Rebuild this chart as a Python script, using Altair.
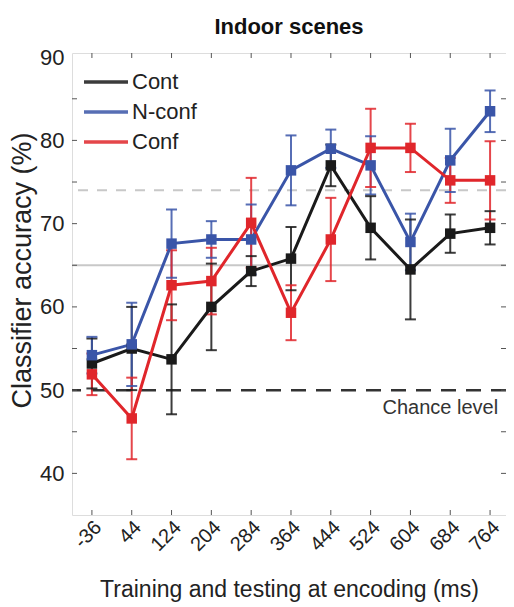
import altair as alt
import pandas as pd

# ---- data ----
times = [-36, 44, 124, 204, 284, 364, 444, 524, 604, 684, 764]
series_names = ["Cont", "N-conf", "Conf"]
cont_mean = [53.2, 55.0, 53.7, 60.0, 64.3, 65.8, 77.0, 69.5, 64.5, 68.8, 69.5]
cont_err = [3.0, 5.0, 6.6, 5.2, 1.8, 3.8, 2.5, 3.8, 6.0, 2.3, 2.0]
nconf_mean = [54.2, 55.5, 67.6, 68.1, 68.1, 76.4, 79.0, 77.0, 67.8, 77.6, 83.5]
nconf_err = [2.2, 5.0, 4.1, 2.2, 4.2, 4.2, 2.3, 3.5, 3.4, 3.8, 2.5]
conf_mean = [51.9, 46.6, 62.6, 63.1, 70.1, 59.3, 68.1, 79.1, 79.1, 75.2, 75.2]
conf_err = [2.5, 4.9, 4.2, 4.0, 5.4, 3.3, 5.0, 4.7, 2.9, 2.7, 4.7]
series_colors = ["#1a1a1a", "#3a55a8", "#e0262b"]

y_ticks = [40, 50, 60, 70, 80, 90]
y_minor = [40, 45, 50, 55, 60, 65, 70, 75, 80, 85]
chance_level = 50
gray_solid_level = 65
gray_dashed_level = 74
chance_label = ["Chance level"]
chance_label_x = [664]
chance_label_y = [47.9]

title_text = ["Indoor scenes"]
x_title = "Training and testing at encoding (ms)"
y_title = "Classifier accuracy (%)"

W, H = 434, 462
FONT = "Liberation Sans, Arial, Helvetica, sans-serif"

rows = []
for name, m, e in [("Cont", cont_mean, cont_err), ("N-conf", nconf_mean, nconf_err), ("Conf", conf_mean, conf_err)]:
    for t, v, er in zip(times, m, e):
        rows.append({"series": name, "t": t, "acc": v, "lo": v - er, "hi": v + er})
df = pd.DataFrame(rows)

xs = alt.Scale(domain=[-76, 796], nice=False, zero=False)
ys = alt.Scale(domain=[35, 90.5], nice=False, zero=False)
cs = alt.Scale(domain=series_names, range=series_colors)

base = alt.Chart(df)

x_enc = alt.X("t:Q", scale=xs, axis=alt.Axis(
    values=times, title=x_title, labelExpr="'' + datum.value",
    labelAngle=315, labelAlign="right", labelBaseline="middle",
    labelFontSize=20, labelPadding=9, labelOffset=6, labelColor="#222",
    titleFontSize=23, titleFont=FONT, labelFont=FONT, titleColor="#222",
    titleFontWeight="normal", titleBaseline="alphabetic", titleY=81,
    ticks=False, domain=False, grid=False))
y_enc = alt.Y("acc:Q", scale=ys, axis=alt.Axis(
    values=y_ticks, title=y_title, labelFontSize=22, labelPadding=8,
    labelColor="#222", labelFont=FONT, titleFont=FONT, titleFontSize=27,
    titleColor="#222", titleFontWeight="normal", titleAngle=270,
    titleBaseline="middle", titleAlign="center", titleX=-50, titleY=217,
    ticks=False, domain=False, grid=False))

color_enc = alt.Color("series:N", scale=cs, legend=alt.Legend(
    title=None, orient="none", legendX=21, legendY=16, symbolType="M-2,0H2",
    symbolSize=484, symbolStrokeWidth=3.5, labelFontSize=22, labelFont=FONT,
    labelColor="#222", labelOffset=13, rowPadding=6, padding=0))

ref_solid = alt.Chart(pd.DataFrame({"lvl": [gray_solid_level]})).mark_rule(
    color="#c8c8c8", strokeWidth=2).encode(y=alt.Y("lvl:Q", scale=ys))
ref_dash = alt.Chart(pd.DataFrame({"lvl": [gray_dashed_level]})).mark_rule(
    color="#c8c8c8", strokeWidth=2, strokeDash=[10, 9]).encode(y=alt.Y("lvl:Q", scale=ys))
chance = alt.Chart(pd.DataFrame({"lvl": [chance_level]})).mark_rule(
    color="#333333", strokeWidth=2.5, strokeDash=[15, 10]).encode(y=alt.Y("lvl:Q", scale=ys))
chance_txt = alt.Chart(pd.DataFrame({"t": chance_label_x, "v": chance_label_y, "s": chance_label})).mark_text(
    font=FONT, fontSize=20, color="#333", align="center", baseline="middle").encode(
    x=alt.X("t:Q", scale=xs), y=alt.Y("v:Q", scale=ys), text="s:N")
title_mark = alt.Chart(pd.DataFrame({"s": title_text})).mark_text(
    font=FONT, fontSize=22, fontWeight="bold", color="#111", align="center",
    baseline="alphabetic").encode(x=alt.value(W / 2), y=alt.value(-19), text="s:N")

# inward ticks (MATLAB style box)
yt = pd.DataFrame({"v": y_minor})
xt = pd.DataFrame({"t": times})
tick_col = "#555555"
lt = alt.Chart(yt).mark_rule(color=tick_col, strokeWidth=1).encode(
    y=alt.Y("v:Q", scale=ys), x=alt.value(0), x2=alt.value(5))
rt = alt.Chart(yt).mark_rule(color=tick_col, strokeWidth=1).encode(
    y=alt.Y("v:Q", scale=ys), x=alt.value(W - 5), x2=alt.value(W))
bt = alt.Chart(xt).mark_rule(color=tick_col, strokeWidth=1).encode(
    x=alt.X("t:Q", scale=xs), y=alt.value(H - 5), y2=alt.value(H))
tt = alt.Chart(xt).mark_rule(color=tick_col, strokeWidth=1).encode(
    x=alt.X("t:Q", scale=xs), y=alt.value(0), y2=alt.value(5))

err = base.mark_rule(strokeWidth=2, opacity=0.85).encode(
    x=x_enc, y=alt.Y("lo:Q", scale=ys), y2="hi:Q", color=color_enc)
cap_lo = base.mark_tick(orient="horizontal", size=11, thickness=2, opacity=0.85).encode(
    x=alt.X("t:Q", scale=xs), y=alt.Y("lo:Q", scale=ys), color=color_enc)
cap_hi = base.mark_tick(orient="horizontal", size=11, thickness=2, opacity=0.85).encode(
    x=alt.X("t:Q", scale=xs), y=alt.Y("hi:Q", scale=ys), color=color_enc)
lines = base.mark_line(strokeWidth=3).encode(
    x=x_enc, y=y_enc, color=color_enc, detail="series:N")
pts = base.mark_point(shape="square", filled=True, size=110, opacity=1).encode(
    x=alt.X("t:Q", scale=xs), y=alt.Y("acc:Q", scale=ys), color=color_enc)

chart = alt.layer(
    ref_solid, ref_dash, chance, chance_txt, lt, rt, bt, tt, err, cap_lo, cap_hi,
    lines, pts, title_mark
).properties(
    width=W, height=H,
    autosize=alt.AutoSizeParams(type="none"),
    padding={"left": 64, "top": 45, "right": 0, "bottom": 90},
).configure_view(stroke="#666666", strokeWidth=1.5).configure(background="white")

chart.save("out.html", embed_options={"renderer": "svg", "actions": False})
